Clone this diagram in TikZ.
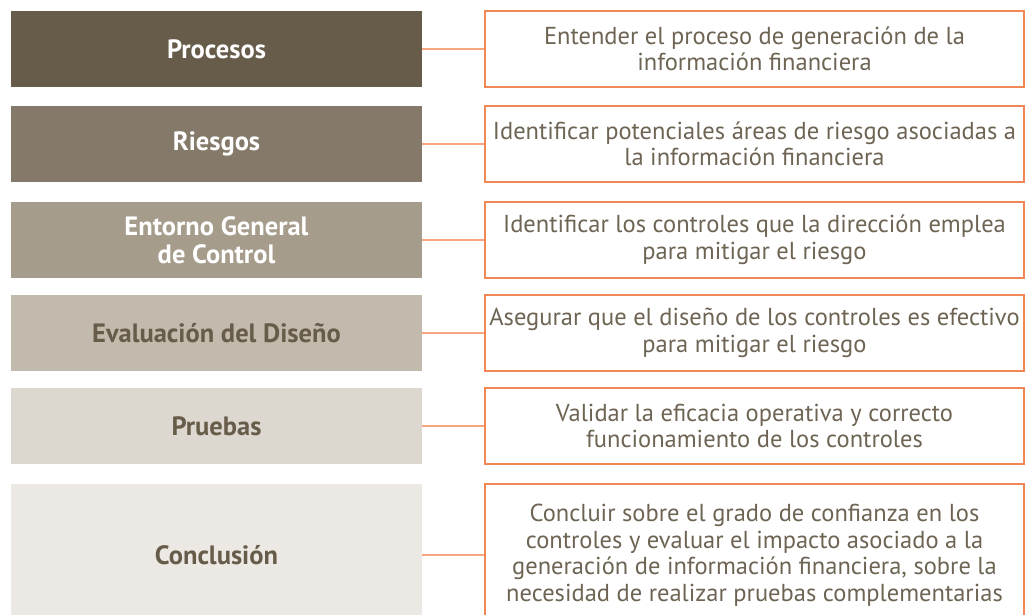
\documentclass[tikz,border=0pt]{standalone}
\usepackage{fontspec}
\setmainfont{PT Sans}
\usepackage{tikz}
\usetikzlibrary{
	positioning,
	calc
}
\usepackage{xcolor}
\definecolor{brownA}{RGB}{103,92,73}
\definecolor{brownB}{RGB}{133,122,105}
\definecolor{brownC}{RGB}{166,156,139}
\definecolor{brownD}{RGB}{194,186,172}
\definecolor{brownE}{RGB}{220,216,208}
\definecolor{brownF}{RGB}{236,233,228}
\definecolor{goalline}{RGB}{240,135,85}
\definecolor{linkline}{RGB}{246,165,125}
\definecolor{goaltext}{RGB}{110,100,84}

\begin{document}
\begin{tikzpicture}[
		x=1pt,
		y=-1pt,
		stage/.style={
			rectangle,
			minimum width=411pt,
			minimum height=76pt,
			inner sep=0pt,
			align=center,
			font=\fontsize{26.5}{28}\selectfont\bfseries
		},
		goal/.style={
			draw=goalline,
			line width=1.3pt,
			fill=white,
			minimum width=539pt,
			minimum height=76pt,
			inner sep=0pt,
			align=center,
			text=goaltext,
			font=\fontsize{24.5}{26.5}\selectfont
		},
		link/.style={
			draw=linkline,
			line width=1.5pt
		}
		]
		\clip (0,0) rectangle (1025,614);
		
		% Stages
		\node[stage,fill=brownA,text=white] (procesos) at (216.5,49) {Procesos};
		\node[stage,fill=brownB,text=white] (riesgos) at (216.5,144) {Riesgos};
		\node[stage,fill=brownC,text=white] (entorno) at (216.5,240) {Entorno General\\de Control};
		\node[stage,fill=brownD,text=brownA] (diseno) at (216.5,333) {Evaluación del Diseño};
		\node[stage,fill=brownE,text=brownA] (pruebas) at (216.5,426) {Pruebas};
		\node[stage,fill=brownF,text=brownA,minimum height=142pt] (conclusion) at (216.5,555) {Conclusión};
		
		% Goals
		\node[goal] (gprocesos) at (754.5,49) {Entender el proceso de generación de la\\información financiera};
		\node[goal] (griesgos) at (754.5,144) {Identificar potenciales áreas de riesgo asociadas a\\la información financiera};
		\node[goal] (gentorno) at (754.5,240) {Identificar los controles que la dirección emplea\\para mitigar el riesgo};
		\node[goal] (gdiseno) at (754.5,333) {Asegurar que el diseño de los controles es efectivo\\para mitigar el riesgo};
		\node[goal] (gpruebas) at (754.5,426) {Validar la eficacia operativa y correcto\\funcionamiento de los controles};
		\node[goal,minimum height=142pt] (gconclusion) at (754.5,555) {Concluir sobre el grado de confianza en los\\controles y evaluar el impacto asociado a la\\generación de información financiera, sobre la\\necesidad de realizar pruebas complementarias};
		
		\foreach \s in {procesos,riesgos,entorno,diseno,pruebas,conclusion}
		\draw[link] (\s.east) -- (g\s.west);
		
	\end{tikzpicture}
\end{document}
